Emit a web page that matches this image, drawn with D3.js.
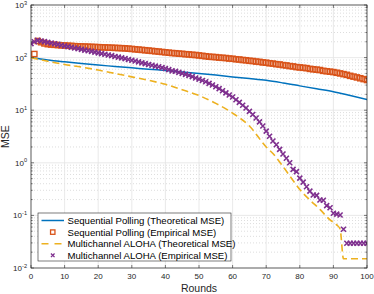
<!DOCTYPE html>
<html>
<head>
<meta charset="utf-8">
<script src="https://cdn.jsdelivr.net/npm/d3@7"></script>
<style>
  body { margin: 0; background: #fff; }
  svg { display: block; font-family: "Liberation Sans", Arial, Helvetica, sans-serif; }
</style>
</head>
<body>
<div id="chart"></div>
<script>
// Sequential Polling, theoretical MSE (read at a few rounds)
const spTheoryRounds = [0, 5, 10, 15, 20, 25, 30, 35, 40, 45, 50, 55, 60, 65, 70, 75, 80, 85, 90, 95, 100];
const spTheoryMSE = [100, 90, 83, 77, 72, 68, 64, 60, 57, 53.5, 50, 46.5, 43, 40, 37, 33, 29, 25.5, 22.5, 19, 16];

// Sequential Polling, empirical MSE, rounds 1..100
const spEmpMSE = [
  117, 207, 196, 186, 180, 177, 175, 173, 171, 170,
  168, 167, 165, 164, 163, 162, 161, 160, 159, 158,
  157, 156, 155, 154, 153, 152, 151, 150, 148, 146,
  144, 142, 140, 138, 136, 134, 132, 130, 128, 126,
  124, 122, 121, 119, 118, 116, 115, 113, 112, 110,
  108, 106, 104, 103, 102, 100, 99, 98, 96, 95,
  93, 92, 90, 89, 87, 86, 84, 83, 81, 80,
  78, 77, 75, 74, 72, 71, 69, 68, 66, 65,
  64, 63, 61, 60, 59, 58, 56, 55, 54, 53,
  51.5, 50, 48.5, 47, 45, 43.5, 42, 40.5, 39, 37.5
];

// Multichannel ALOHA, theoretical MSE
const alohaTheoryRounds = [0, 5, 10, 15, 20, 25, 30, 35, 40, 45, 50, 55, 60, 65, 70, 72, 75, 78, 80, 83, 86, 89, 91, 92, 93, 100];
const alohaTheoryMSE = [100, 85, 74, 66, 58, 50, 43, 37, 31, 24.5, 19, 13.5, 8.8, 5.0, 2.0, 1.5, 0.85, 0.46, 0.31, 0.196, 0.13, 0.082, 0.066, 0.055, 0.015, 0.015];

// Multichannel ALOHA, empirical MSE, rounds 0..100
const alohaEmpMSE = [
  184,
  200, 213, 207, 201, 195, 189, 183, 178, 172, 167,
  162, 157, 152, 148, 143, 139, 135, 131, 127, 123,
  119, 116, 112, 109, 105, 102, 99, 95.5, 92, 89,
  86, 83, 79.5, 77, 74, 71.5, 69, 67, 64.5, 62,
  59, 56, 55, 52.5, 50, 48, 46, 43.5, 41, 39,
  36.7, 34.7, 32.4, 30.2, 27.9, 25.7, 23.4, 21.4, 19.5, 17.8,
  15.8, 14.1, 12.4, 11, 9.5, 8.3, 7.1, 6.0, 5.0, 4.0,
  3.2, 2.6, 2.2, 1.8, 1.47, 1.22, 1.0, 0.75, 0.68, 0.51,
  0.43, 0.35, 0.29, 0.244, 0.24, 0.196, 0.194, 0.153, 0.14, 0.11,
  0.106, 0.102, 0.0545, 0.0295, 0.0295, 0.0295, 0.0295, 0.0295, 0.0295, 0.0295
];

const xTicks = [0, 10, 20, 30, 40, 50, 60, 70, 80, 90, 100];
const yExps = [-2, -1, 0, 1, 2, 3];
const legendLabels = [
  'Sequential Polling (Theoretical MSE)',
  'Sequential Polling (Empirical MSE)',
  'Multichannel ALOHA (Theoretical MSE)',
  'Multichannel ALOHA (Empirical MSE)'
];

const colors = { blue: '#0072BD', orange: '#D95319', yellow: '#EDB120', purple: '#7E2F8E' };
const axisColor = '#262626';

const width = 374, height = 294;
const margin = { top: 5, right: 7, bottom: 26, left: 31 };

const svg = d3.select('#chart').append('svg')
  .attr('width', width)
  .attr('height', height);

const x = d3.scaleLinear().domain([0, 100]).range([margin.left, width - margin.right]);
const y = d3.scaleLog().domain([1e-2, 1e3]).range([height - margin.bottom, margin.top]);

const x0 = x.range()[0], x1 = x.range()[1];
const y0 = y.range()[0], y1 = y.range()[1];

// minor y values (2..9 in each decade)
const minorY = [];
yExps.slice(0, -1).forEach(e => {
  for (let k = 2; k <= 9; k++) minorY.push(k * Math.pow(10, e));
});

// grid
const grid = svg.append('g');
grid.selectAll('.ym').data(minorY).enter().append('line')
  .attr('x1', x0).attr('x2', x1)
  .attr('y1', d => y(d)).attr('y2', d => y(d))
  .attr('stroke', '#cfcfcf').attr('stroke-width', 0.7)
  .attr('stroke-dasharray', '1,2');
grid.selectAll('.xg').data(xTicks).enter().append('line')
  .attr('x1', d => x(d)).attr('x2', d => x(d))
  .attr('y1', y0).attr('y2', y1)
  .attr('stroke', '#e3e3e3').attr('stroke-width', 0.8);
grid.selectAll('.yg').data(yExps).enter().append('line')
  .attr('x1', x0).attr('x2', x1)
  .attr('y1', d => y(Math.pow(10, d))).attr('y2', d => y(Math.pow(10, d)))
  .attr('stroke', '#e3e3e3').attr('stroke-width', 0.8);

svg.append('clipPath').attr('id', 'clip')
  .append('rect').attr('x', x0).attr('y', y1).attr('width', x1 - x0).attr('height', y0 - y1);

const plot = svg.append('g').attr('clip-path', 'url(#clip)');

const line = d3.line()
  .x(d => x(d[0]))
  .y(d => y(d[1]))
  .curve(d3.curveMonotoneX);

// Sequential Polling theory
plot.append('path')
  .datum(spTheoryRounds.map((r, i) => [r, spTheoryMSE[i]]))
  .attr('d', line)
  .attr('fill', 'none')
  .attr('stroke', colors.blue)
  .attr('stroke-width', 1.5);

// Sequential Polling empirical (squares)
plot.append('g').selectAll('rect')
  .data(spEmpMSE.map((v, i) => [i + 1, v]))
  .enter().append('rect')
  .attr('x', d => x(d[0]) - 2.6)
  .attr('y', d => y(d[1]) - 2.6)
  .attr('width', 5.2).attr('height', 5.2)
  .attr('fill', 'none')
  .attr('stroke', colors.orange)
  .attr('stroke-width', 1.4);

// Multichannel ALOHA theory (dashed)
plot.append('path')
  .datum(alohaTheoryRounds.map((r, i) => [r, alohaTheoryMSE[i]]))
  .attr('d', line)
  .attr('fill', 'none')
  .attr('stroke', colors.yellow)
  .attr('stroke-width', 1.6)
  .attr('stroke-dasharray', '7,4');

// Multichannel ALOHA empirical (x markers)
const xMark = 'M-2.5,-2.5L2.5,2.5M-2.5,2.5L2.5,-2.5';
plot.append('g').selectAll('path')
  .data(alohaEmpMSE.map((v, i) => [i, v]))
  .enter().append('path')
  .attr('transform', d => `translate(${x(d[0])},${y(d[1])})`)
  .attr('d', xMark)
  .attr('fill', 'none')
  .attr('stroke', colors.purple)
  .attr('stroke-width', 1.6);

// axes box
svg.append('rect')
  .attr('x', x0).attr('y', y1)
  .attr('width', x1 - x0).attr('height', y0 - y1)
  .attr('fill', 'none')
  .attr('stroke', axisColor)
  .attr('stroke-width', 0.7);

// ticks
const ticks = svg.append('g').attr('stroke', axisColor).attr('stroke-width', 0.6);
xTicks.forEach(t => {
  ticks.append('line').attr('x1', x(t)).attr('x2', x(t)).attr('y1', y0).attr('y2', y0 - 3);
  ticks.append('line').attr('x1', x(t)).attr('x2', x(t)).attr('y1', y1).attr('y2', y1 + 3);
});
yExps.forEach(e => {
  const yy = y(Math.pow(10, e));
  ticks.append('line').attr('x1', x0).attr('x2', x0 + 3).attr('y1', yy).attr('y2', yy);
  ticks.append('line').attr('x1', x1).attr('x2', x1 - 3).attr('y1', yy).attr('y2', yy);
});
minorY.forEach(v => {
  const yy = y(v);
  ticks.append('line').attr('x1', x0).attr('x2', x0 + 1.6).attr('y1', yy).attr('y2', yy);
  ticks.append('line').attr('x1', x1).attr('x2', x1 - 1.6).attr('y1', yy).attr('y2', yy);
});

// tick labels
svg.append('g').selectAll('text')
  .data(xTicks).enter().append('text')
  .attr('x', d => x(d))
  .attr('y', y0 + 11)
  .attr('text-anchor', 'middle')
  .attr('font-size', 8)
  .attr('fill', axisColor)
  .text(d => d);

const yl = svg.append('g').selectAll('text')
  .data(yExps).enter().append('text')
  .attr('x', x0 - 4)
  .attr('y', d => y(Math.pow(10, d)) + 3)
  .attr('text-anchor', 'end')
  .attr('font-size', 8)
  .attr('fill', axisColor);
yl.append('tspan').text('10');
yl.append('tspan').attr('dy', -3.5).attr('font-size', 5.6).text(d => d);

// axis titles
svg.append('text')
  .attr('x', (x0 + x1) / 2)
  .attr('y', height - 2.5)
  .attr('text-anchor', 'middle')
  .attr('font-size', 10.5)
  .attr('fill', axisColor)
  .text('Rounds');

svg.append('text')
  .attr('transform', `translate(${8.5},${(y0 + y1) / 2}) rotate(-90)`)
  .attr('text-anchor', 'middle')
  .attr('font-size', 10.5)
  .attr('fill', axisColor)
  .text('MSE');

// legend
const lg = svg.append('g').attr('transform', 'translate(38,213)');
lg.append('rect')
  .attr('width', 193).attr('height', 48)
  .attr('fill', '#fff')
  .attr('stroke', axisColor)
  .attr('stroke-width', 0.6);

const rowY = i => 7.5 + i * 11.6;
lg.selectAll('text').data(legendLabels).enter().append('text')
  .attr('x', 29.5)
  .attr('y', (d, i) => rowY(i) + 3.4)
  .attr('font-size', 9.6)
  .attr('fill', '#000')
  .text(d => d);

lg.append('line').attr('x1', 3.5).attr('x2', 26).attr('y1', rowY(0)).attr('y2', rowY(0))
  .attr('stroke', colors.blue).attr('stroke-width', 1.5);
lg.append('rect').attr('x', 14.75 - 2.2).attr('y', rowY(1) - 2.2).attr('width', 4.4).attr('height', 4.4)
  .attr('fill', 'none').attr('stroke', colors.orange).attr('stroke-width', 1.3);
lg.append('line').attr('x1', 3.5).attr('x2', 26).attr('y1', rowY(2)).attr('y2', rowY(2))
  .attr('stroke', colors.yellow).attr('stroke-width', 1.6).attr('stroke-dasharray', '7,6');
lg.append('path').attr('transform', `translate(14.75,${rowY(3)})`)
  .attr('d', 'M-1.8,-1.8L1.8,1.8M-1.8,1.8L1.8,-1.8')
  .attr('stroke', colors.purple).attr('stroke-width', 1.3);
</script>
</body>
</html>
